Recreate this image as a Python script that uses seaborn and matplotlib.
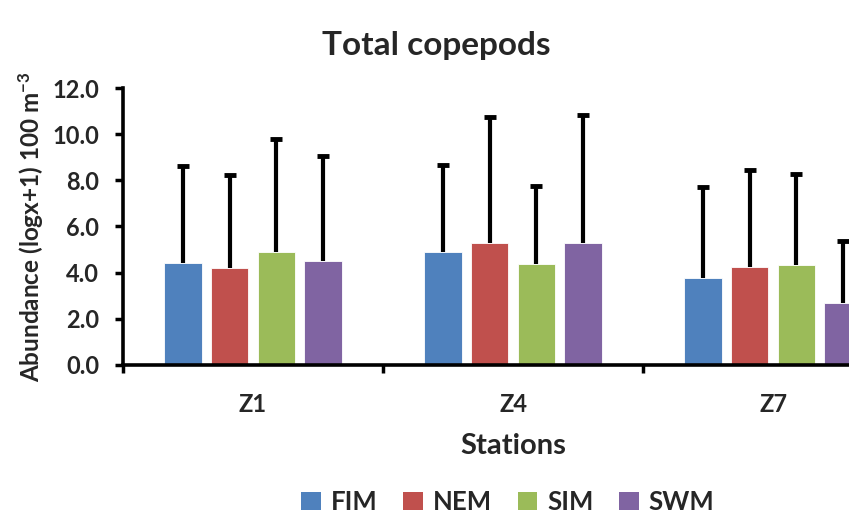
import matplotlib
matplotlib.use("Agg")
import matplotlib.pyplot as plt
import matplotlib.patches as mpatches
import seaborn as sns
import pandas as pd

# Mean abundance and upper standard deviation per station and monsoon season
stations = ["Z1", "Z4", "Z7"]
seasons = ["FIM", "NEM", "SIM", "SWM"]
means = {
    "FIM": [4.42, 4.88, 3.77],
    "NEM": [4.22, 5.27, 4.26],
    "SIM": [4.88, 4.38, 4.32],
    "SWM": [4.49, 5.27, 2.70],
}
upper_sd = {
    "FIM": [4.20, 3.79, 3.96],
    "NEM": [4.00, 5.46, 4.19],
    "SIM": [4.90, 3.39, 3.96],
    "SWM": [4.57, 5.56, 2.67],
}
colors = ["#4F81BD", "#C0504D", "#9BBB59", "#8064A2"]
yticks = [0, 2, 4, 6, 8, 10, 12]

rows = []
for s in seasons:
    for i, st in enumerate(stations):
        rows.append({"Station": st, "Season": s, "Abundance": means[s][i], "SD": upper_sd[s][i]})
df = pd.DataFrame(rows)

sns.set_theme(style="white")
plt.rcParams["font.family"] = ["Lato", "DejaVu Sans"]
plt.rcParams["font.weight"] = "bold"
plt.rcParams["mathtext.fontset"] = "custom"
plt.rcParams["mathtext.rm"] = "Lato:bold"
plt.rcParams["mathtext.bf"] = "Lato:bold"
plt.rcParams["mathtext.default"] = "bf"

fig = plt.figure(figsize=(8.49, 5.18), dpi=100)
# The plotting area runs past the right edge of the figure
ax = fig.add_axes([0.1449, 0.2954, 0.9187, 0.5347])

sns.barplot(data=df, x="Station", y="Abundance", hue="Season", order=stations,
            hue_order=seasons, palette=colors, width=0.72, gap=0.2,
            errorbar=None, edgecolor="white", linewidth=0.6, saturation=1,
            legend=False, ax=ax)

# Upper-only error bars placed on each bar drawn by seaborn
for container, s in zip(ax.containers, seasons):
    for bar, sd in zip(container, upper_sd[s]):
        xc = bar.get_x() + bar.get_width() / 2
        h = bar.get_height()
        _, caps, _ = ax.errorbar(xc, h, yerr=[[0], [sd]], fmt="none", ecolor="black",
                                 elinewidth=3.0, capsize=4.3, capthick=3.5, zorder=3)
        caps[0].set_visible(False)

ax.set_xlim(-0.5, 2.5)
ax.set_ylim(0, 12)
ax.set_yticks(yticks)
ax.set_yticklabels([f"{v:.1f}" for v in yticks])

# Category boundaries as major ticks, labels on minor ticks at centres
ax.set_xticks([-0.5, 0.5, 1.5, 2.5])
ax.set_xticklabels([])
ax.set_xticks([0, 1, 2], minor=True)
ax.set_xticklabels(stations, minor=True)
ax.tick_params(axis="x", which="minor", length=0, pad=20, labelsize=17)
ax.tick_params(axis="x", which="major", direction="out", length=6, width=2.5,
               bottom=True, color="black")
ax.tick_params(axis="y", direction="out", length=6, width=2.5, left=True,
               color="black", labelsize=17, pad=11)
for lbl in ax.get_yticklabels() + ax.get_xticklabels(minor=True):
    lbl.set_fontweight("bold")

for side in ["top", "right"]:
    ax.spines[side].set_visible(False)
for side in ["left", "bottom"]:
    ax.spines[side].set_linewidth(2.6)
    ax.spines[side].set_color("black")

ax.set_xlabel("Stations", fontsize=21, fontweight="bold")
ax.set_ylabel("Abundance (logx+1) 100 m$^{-3}$", fontsize=17.5,
              fontweight="bold", labelpad=5)
ax.xaxis.set_label_coords((513 - 123) / 780, -0.245)

fig.text(436 / 849, 1 - 45 / 518, "Total copepods", ha="center", va="center",
         fontsize=24, fontweight="bold")

handles = [mpatches.Patch(facecolor=c, edgecolor="none", label=s)
           for c, s in zip(colors, seasons)]
fig.legend(handles=handles, loc="center", bbox_to_anchor=(508 / 849, 16 / 518),
           ncol=4, frameon=False, prop={"weight": "bold", "size": 18.5},
           handlelength=0.75, handleheight=0.75, handletextpad=0.4, columnspacing=1.0)

fig.savefig("out.png", dpi=100)
